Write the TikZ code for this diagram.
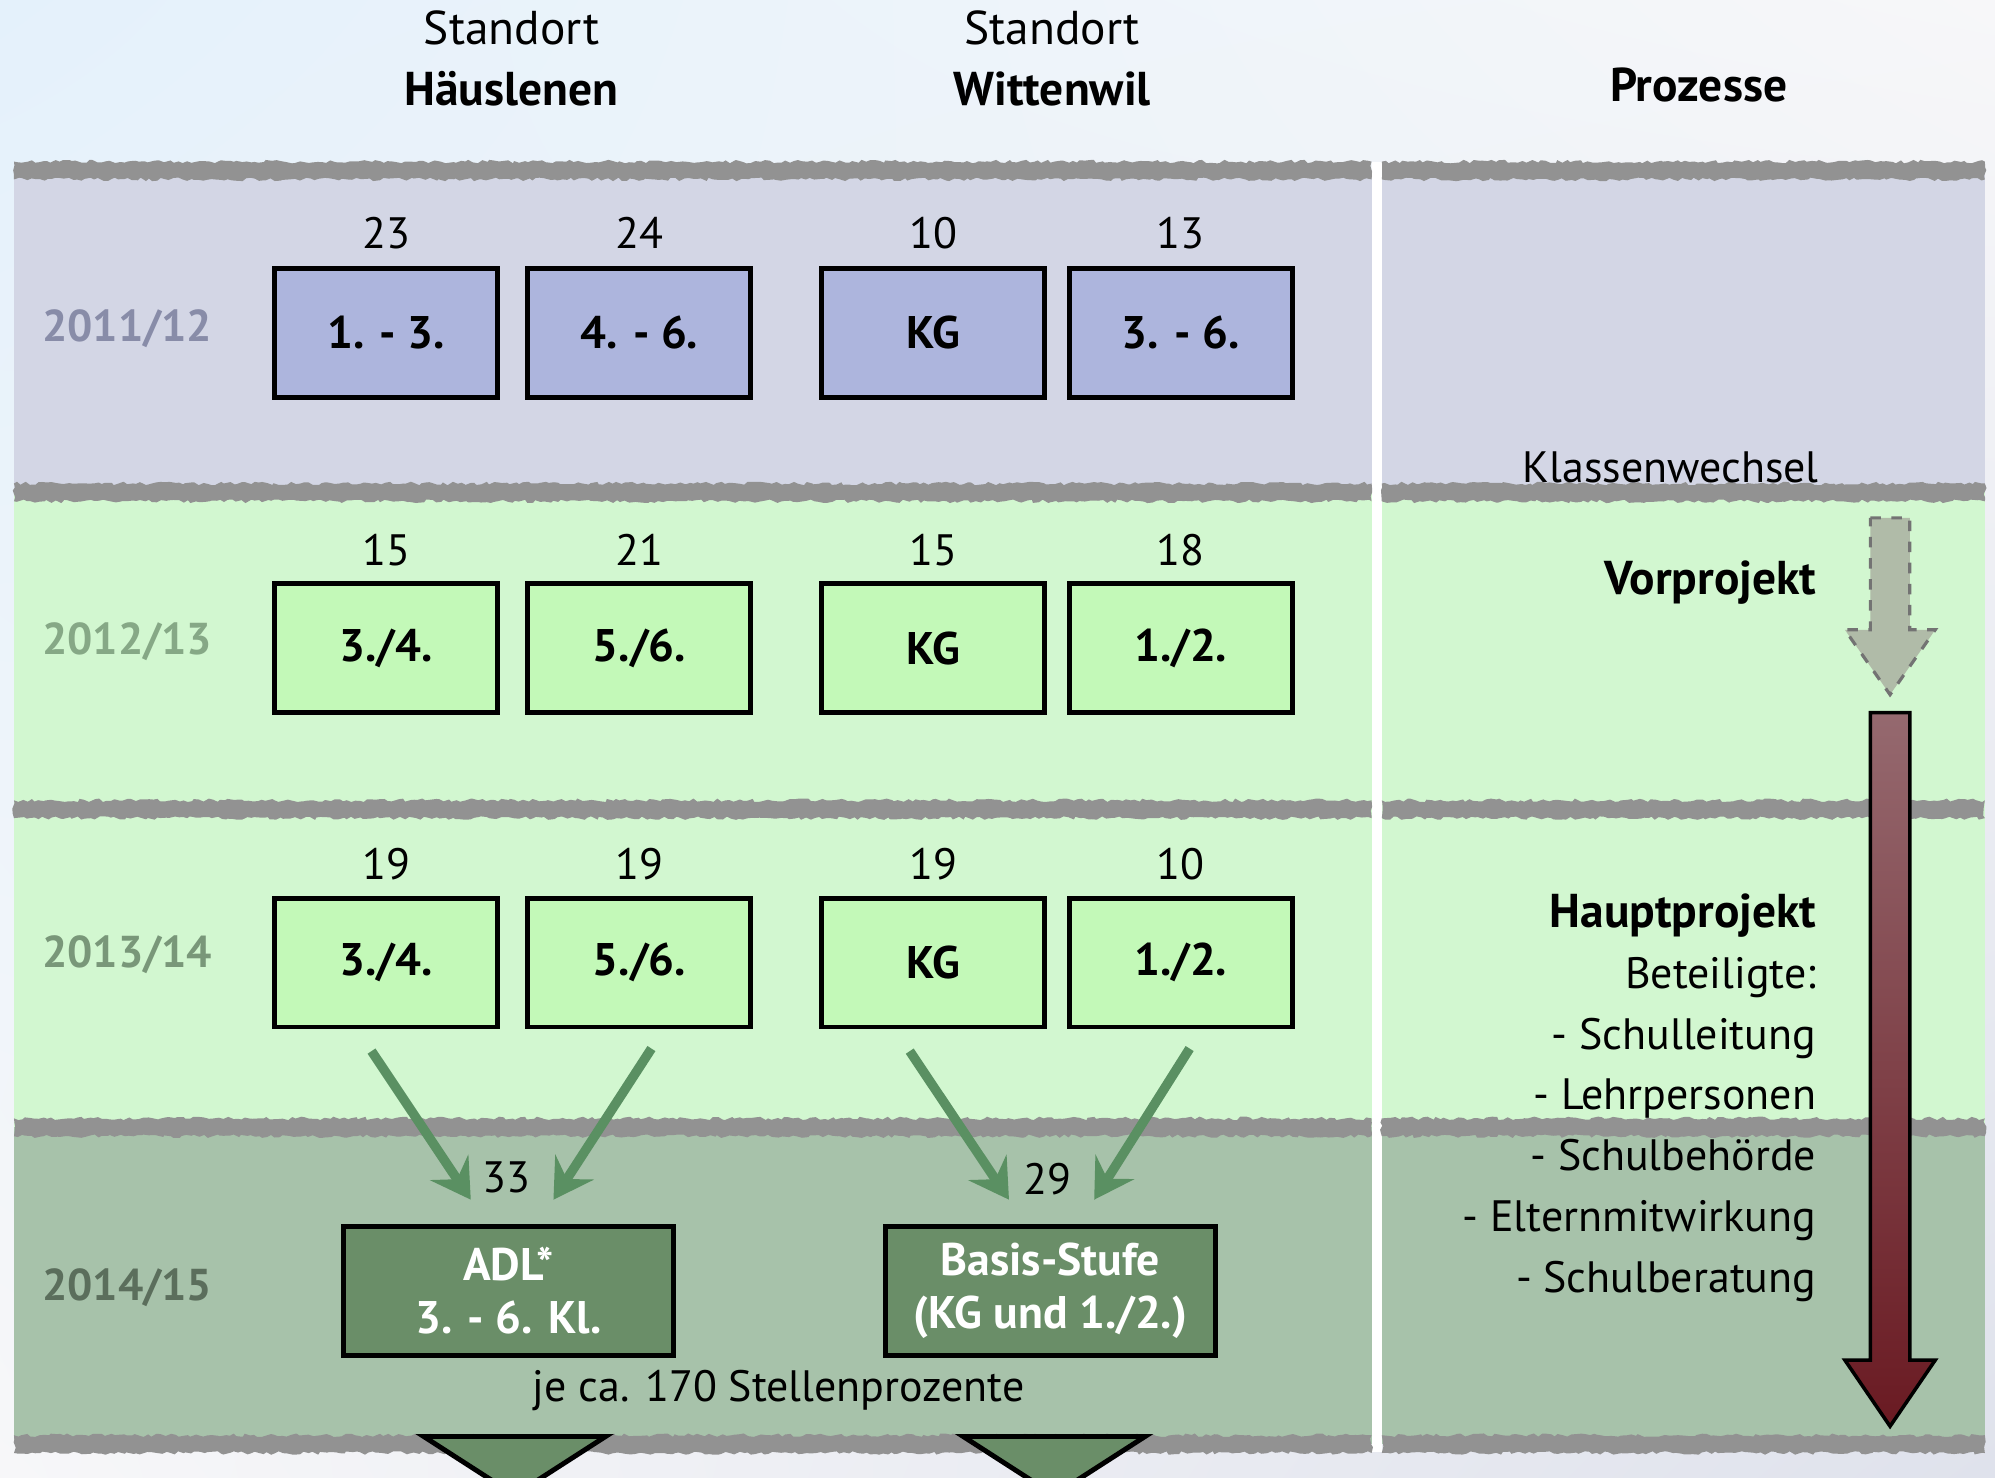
\documentclass[tikz,border=0pt]{standalone}
\usepackage{fontspec}
\setmainfont{PT Sans}
\usetikzlibrary{arrows.meta,positioning,decorations.pathmorphing,shadings}

\definecolor{bgblue}{HTML}{E4F1FB}
\definecolor{bgwhite}{HTML}{F7F7F9}
\definecolor{bglow}{HTML}{DFE2EC}
\definecolor{bandblue}{HTML}{D3D6E5}
\definecolor{bandlight}{HTML}{D2F7D0}
\definecolor{banddark}{HTML}{A7C2AA}
\definecolor{sepgray}{HTML}{929292}
\definecolor{boxblue}{HTML}{ADB5DD}
\definecolor{boxlight}{HTML}{C3F9B8}
\definecolor{boxdark}{HTML}{6A8E68}
\definecolor{arrgreen}{HTML}{5A9062}
\definecolor{yearblue}{HTML}{888CA8}
\definecolor{yeargreen}{HTML}{86A886}
\definecolor{yeardark}{HTML}{5B6E5C}
\definecolor{vorgray}{HTML}{B0BBA8}
\definecolor{maroontop}{HTML}{95696F}
\definecolor{maroonbot}{HTML}{6A1A22}

\begin{document}
\begin{tikzpicture}[
    x=0.012723cm, y=-0.012723cm,
    cls/.style={draw, line width=1.4pt, minimum width=2.23cm, minimum height=1.29cm, font=\fontsize{13}{15}\selectfont\bfseries},
    wide/.style={cls, minimum width=3.3cm, fill=boxdark, text=white, align=center, font=\fontsize{13}{15}\selectfont\bfseries},
    num/.style={font=\fontsize{12.5}{15}\selectfont, inner sep=0pt},
    year/.style={font=\fontsize{12.7}{16}\selectfont\bfseries},
    head/.style={font=\fontsize{13.5}{16}\selectfont},
    proc/.style={font=\fontsize{12.5}{17.3}\selectfont, align=right, inner sep=0pt},
    sep/.style={fill=sepgray, decorate, decoration={random steps, segment length=1.2pt, amplitude=0.5pt}},
    conn/.style={-{Stealth[length=11pt, width=13pt, inset=4pt]}, arrgreen, line width=2.7pt}
]
\useasboundingbox (0,0) rectangle (1568,1161);
\clip (0,0) rectangle (1568,1161);
\shade[upper left=bgblue, upper right=bgwhite, lower left=bgwhite, lower right=bglow] (0,0) rectangle (1568,1161);

% bands
\fill[bandblue] (11,134) rectangle (1078,387);
\fill[bandblue] (1086,134) rectangle (1560,387);
\fill[bandlight] (11,387) rectangle (1078,886);
\fill[bandlight] (1086,387) rectangle (1560,886);
\fill[banddark] (11,886) rectangle (1078,1135);
\fill[banddark] (1086,886) rectangle (1560,1135);
\fill[white] (1078,127) rectangle (1086,1141);
\pgfmathsetseed{7}
\foreach \y in {134,387,636,886,1135}{
    \path[sep] (11,\y-7) rectangle (1078,\y+7);
    \path[sep] (1086,\y-7) rectangle (1560,\y+7);
}

% header
\node[head] (st1) at (402,22) {Standort};
\node[head, font=\fontsize{13.5}{16}\selectfont\bfseries] (haeus) at (402,70) {Häuslenen};
\node[head] (st2) at (827,22) {Standort};
\node[head, font=\fontsize{13.5}{16}\selectfont\bfseries] (witt) at (827,70) {Wittenwil};
\node[head, font=\fontsize{13.5}{16}\selectfont\bfseries] (proz) at (1335,67) {Prozesse};

% years
\node[year, text=yearblue] (y1) at (100,258) {2011/12};
\node[year, text=yeargreen] (y2) at (100,504) {2012/13};
\node[year, text=yeargreen!90!black] (y3) at (100,750) {2013/14};
\node[year, text=yeardark] (y4) at (100,1012) {2014/15};

% 2011/12
\node[cls, fill=boxblue] (h1a) at (303.5,261.5) {1. - 3.};
\node[cls, fill=boxblue] (h1b) at (502.5,261.5) {4. - 6.};
\node[cls, fill=boxblue] (w1a) at (733.5,261.5) {KG};
\node[cls, fill=boxblue] (w1b) at (928,261.5) {3. - 6.};
\node[num] (nh1a) at (303.5,183) {23};
\node[num] (nh1b) at (502.5,183) {24};
\node[num] (nw1a) at (733.5,183) {10};
\node[num] (nw1b) at (928,183) {13};

% 2012/13
\node[cls, fill=boxlight] (h2a) at (303.5,509.5) {3./4.};
\node[cls, fill=boxlight] (h2b) at (502.5,509.5) {5./6.};
\node[cls, fill=boxlight] (w2a) at (733.5,509.5) {KG};
\node[cls, fill=boxlight] (w2b) at (928,509.5) {1./2.};
\node[num] (nh2a) at (303.5,432) {15};
\node[num] (nh2b) at (502.5,432) {21};
\node[num] (nw2a) at (733.5,432) {15};
\node[num] (nw2b) at (928,432) {18};

% 2013/14
\node[cls, fill=boxlight] (h3a) at (303.5,756.5) {3./4.};
\node[cls, fill=boxlight] (h3b) at (502.5,756.5) {5./6.};
\node[cls, fill=boxlight] (w3a) at (733.5,756.5) {KG};
\node[cls, fill=boxlight] (w3b) at (928,756.5) {1./2.};
\node[num] (nh3a) at (303.5,679) {19};
\node[num] (nh3b) at (502.5,679) {19};
\node[num] (nw3a) at (733.5,679) {19};
\node[num] (nw3b) at (928,679) {10};

% 2014/15
\node[wide] (adl) at (399.5,1014.5) {ADL*\\3. - 6. Kl.};
\node[wide] (basis) at (825.5,1014.5) {Basis-Stufe\\(KG und 1./2.)};
\node[num] (nadl) at (398,925) {33};
\node[num] (nbasis) at (823,927) {29};
\node[num] (stellen) at (612,1093) {je ca. 170 Stellenprozente};

\draw[conn] ([shift={(-11.5,17)}]h3a.south) -- ([shift={(-29.5,-19)}]adl.north);
\draw[conn] ([shift={(9.5,15)}]h3b.south) -- ([shift={(35.5,-19)}]adl.north);
\draw[conn] ([shift={(-18.5,17)}]w3a.south) -- ([shift={(-32.5,-19)}]basis.north);
\draw[conn] ([shift={(7,15)}]w3b.south) -- ([shift={(34.5,-19)}]basis.north);

\filldraw[fill=boxdark, line width=1.4pt] (333,1129) -- (476,1129) -- (404.5,1175) -- cycle;
\filldraw[fill=boxdark, line width=1.4pt] (757,1129) -- (900,1129) -- (828.5,1175) -- cycle;

% Prozesse
\node[proc, anchor=east] (wechsel) at (1430,367) {Klassenwechsel};
\node[proc, anchor=east, font=\fontsize{13.5}{16}\selectfont\bfseries] (vor) at (1428,458) {Vorprojekt};
\node[proc, anchor=north east] (haupt) at (1428,702) {{\fontsize{13.5}{16}\selectfont\bfseries Hauptprojekt}\\Beteiligte:\\- Schulleitung\\- Lehrpersonen\\- Schulbehörde\\- Elternmitwirkung\\- Schulberatung};

\filldraw[fill=vorgray, draw=black!55, dashed, line width=0.9pt] (1470,407) -- (1501,407) -- (1501,495) -- (1521,495) -- (1485.5,546) -- (1450,495) -- (1470,495) -- cycle;
\shadedraw[top color=maroontop, bottom color=maroonbot, draw=black, line width=1pt] (1470,560) -- (1501,560) -- (1501,1069) -- (1521,1069) -- (1485.5,1121) -- (1450,1069) -- (1470,1069) -- cycle;
\end{tikzpicture}
\end{document}
